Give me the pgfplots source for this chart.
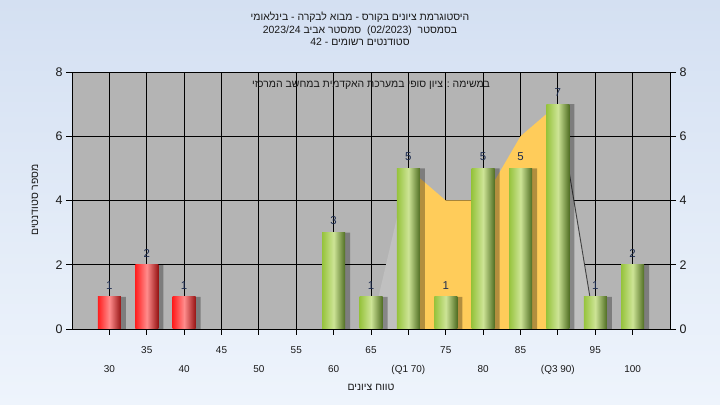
\documentclass[border=0pt]{standalone}
\usepackage{pgfplots}
\pgfplotsset{compat=1.18}
\usepackage{fontspec}
\setmainfont{Liberation Sans}
\newfontfamily\heb[Script=Hebrew]{Liberation Sans}
\TeXXeTstate=1
\definecolor{bgtop}{RGB}{212,224,242}
\definecolor{bgbot}{RGB}{238,244,252}
\definecolor{plotbg}{RGB}{180,180,180}
\definecolor{areaY}{RGB}{255,204,90}
\definecolor{areaG}{RGB}{192,192,192}
\definecolor{gL}{RGB}{150,195,60}
\definecolor{gM}{RGB}{205,228,150}
\definecolor{gR}{RGB}{80,110,35}
\definecolor{rL}{RGB}{255,30,30}
\definecolor{rM}{RGB}{255,140,140}
\definecolor{rR}{RGB}{150,20,20}
\definecolor{lab}{RGB}{30,45,80}
\definecolor{txt}{RGB}{25,25,25}
\pgfplotsset{
  redbar/.style={ybar, bar width=23bp, bar shift=0pt, draw=none,
    left color=rL, right color=rR, middle color=rM, nodes near coords},
  greenbar/.style={ybar, bar width=23bp, bar shift=0pt, draw=none,
    left color=gL, right color=gR, middle color=gM, nodes near coords},
}
\begin{document}
\begin{tikzpicture}
\shade[top color=bgtop,bottom color=bgbot] (0,0) rectangle (720bp,405bp);
\begin{axis}[at={(72bp,76bp)}, anchor=south west, scale only axis,
  width=598bp, height=257bp,
  xmin=-1, xmax=15, ymin=0, ymax=8,
  axis background/.style={fill=plotbg},
  grid=major, grid style={black, line width=0.8bp},
  axis line style={black, line width=0.8bp},
  tick style={black, line width=0.8bp},
  tick align=outside, major tick length=6bp,
  xtick pos=bottom, ytick pos=left,
  xtick={1,3,5,7,9,11,13}, xticklabels={35,45,55,65,75,85,95},
  extra x ticks={0,2,4,6,8,10,12,14},
  extra x tick labels={30,40,50,60,(Q1 70),80,(Q3 90),100},
  extra x tick style={grid=major, xticklabel style={yshift=-19bp}},
  ytick={0,2,4,6,8},
  /pgf/number format/assume math mode=true,
  xticklabel style={font=\fontsize{10}{12}\selectfont, text=txt, yshift=-8bp},
  yticklabel style={font=\fontsize{12.5}{14}\selectfont, text=txt},
  nodes near coords style={font=\fontsize{11.5}{13}\selectfont, text=lab, yshift=4bp},
]
% distribution area
\addplot[fill=areaG, draw=none] coordinates {(7,0)(8,5)} \closedcycle;
\addplot[fill=areaG, draw=none] coordinates {(12,7)(13,0)} \closedcycle;
\addplot[fill=areaY, draw=none] coordinates {(8,5)(9,4)(10,4)(11,6)(12,7)} \closedcycle;
\addplot[black!75, line width=0.9bp] coordinates {(12,7)(13,0)};
% shadows
\addplot[ybar, bar width=23bp, bar shift=5bp, fill=black, fill opacity=0.3, draw=none]
  coordinates {(0,1)(1,2)(2,1)(6,3)(7,1)(8,5)(9,1)(10,5)(11,5)(12,7)(13,1)(14,2)};
% red bars (30, 35, 40)
\addplot[redbar] coordinates {(0,1)};
\addplot[redbar] coordinates {(1,2)};
\addplot[redbar] coordinates {(2,1)};
% green bars (60 ... 100)
\addplot[greenbar] coordinates {(6,3)};
\addplot[greenbar] coordinates {(7,1)};
\addplot[greenbar] coordinates {(8,5)};
\addplot[greenbar] coordinates {(9,1)};
\addplot[greenbar] coordinates {(10,5)};
\addplot[greenbar] coordinates {(11,5)};
\addplot[greenbar] coordinates {(12,7)};
\addplot[greenbar] coordinates {(13,1)};
\addplot[greenbar] coordinates {(14,2)};
\end{axis}
\begin{axis}[at={(72bp,76bp)}, anchor=south west, scale only axis,
  width=598bp, height=257bp,
  xmin=-1, xmax=15, ymin=0, ymax=8,
  hide x axis,
  axis line style={black, line width=0.8bp},
  tick style={black, line width=0.8bp},
  tick align=outside, major tick length=6bp,
  ytick pos=right, yticklabel pos=right,
  ytick={0,2,4,6,8},
  /pgf/number format/assume math mode=true,
  yticklabel style={font=\fontsize{12.5}{14}\selectfont, text=txt},
]
\addplot[draw=none] coordinates {(0,0)};
\end{axis}
\node[text=txt, align=center, font=\fontsize{10.5}{12.5}\selectfont] at (360bp,376bp)
  {\heb\beginR היסטוגרמת ציונים בקורס - מבוא לבקרה - בינלאומי\endR\\
   \heb\beginR בסמסטר\ \ (02/2023)\ \ סמסטר אביב 2023/24\endR\\
   \heb\beginR סטודנטים רשומים - 42\endR};
\node[text=txt, font=\fontsize{10.5}{12.5}\selectfont] at (371bp,320bp)
  {\heb\beginR במשימה : ציון סופי במערכת האקדמית במחשב המרכזי\endR};
\node[text=txt, font=\fontsize{10.5}{12.5}\selectfont] at (371bp,18bp)
  {\heb\beginR טווח ציונים\endR};
\node[text=txt, font=\fontsize{10.5}{12.5}\selectfont, rotate=90] at (35bp,205bp)
  {\heb\beginR מספר סטודנטים\endR};
\end{tikzpicture}
\end{document}
